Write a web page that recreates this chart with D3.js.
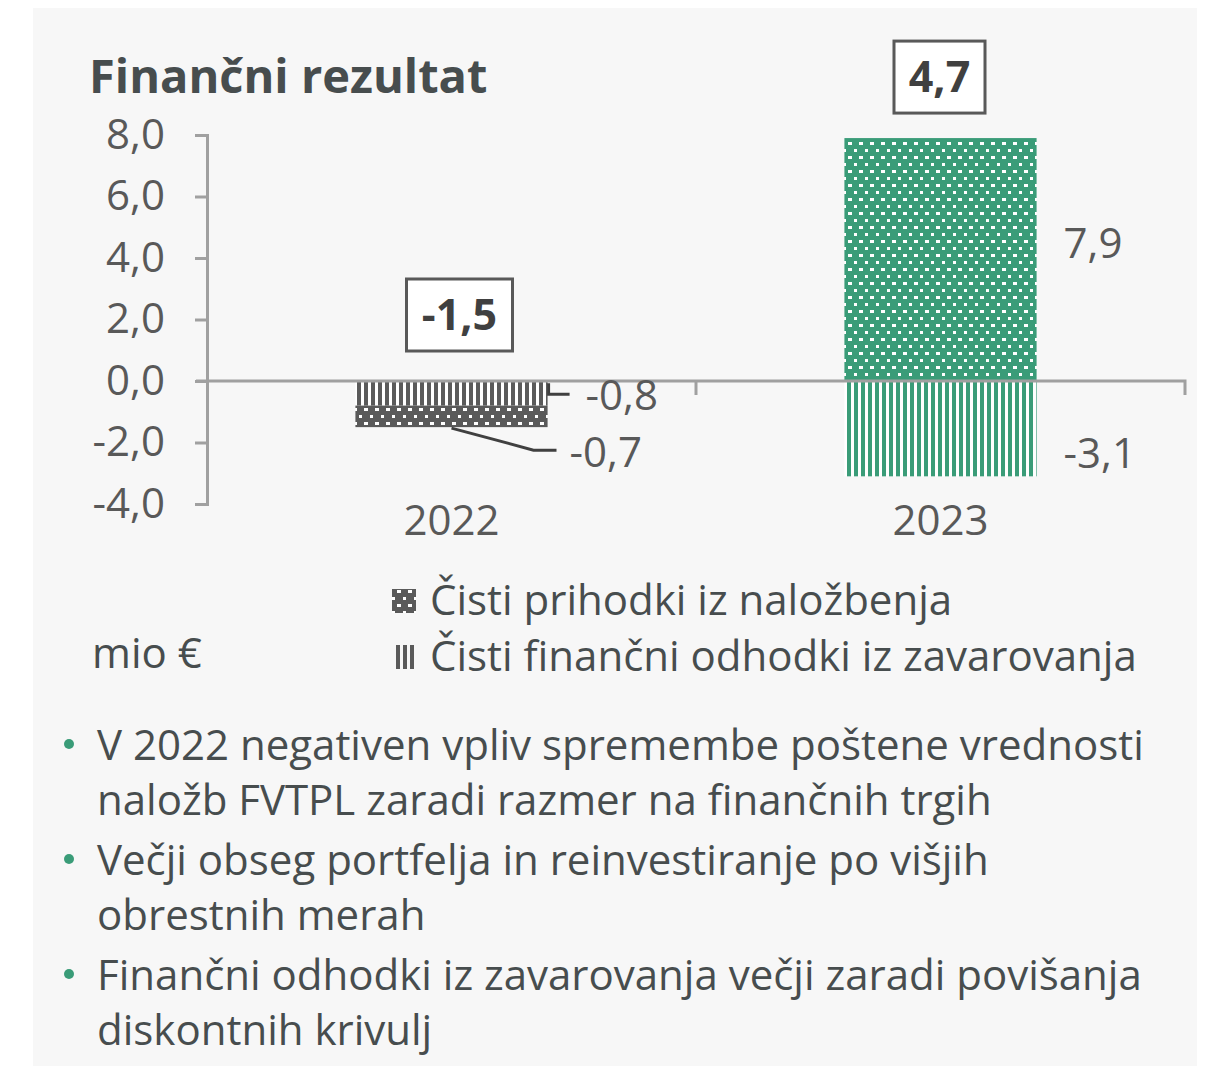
<!DOCTYPE html>
<html>
<head>
<meta charset="utf-8">
<script src="https://cdn.jsdelivr.net/npm/d3@7.9.0/dist/d3.min.js"></script>
<style>
  html, body { margin: 0; padding: 0; background: #fff; }
  svg { display: block; font-family: "Open Sans", sans-serif; }
</style>
</head>
<body>
<svg id="chart" width="1208" height="1068"></svg>
<script>
// chart data
const years = ["2022", "2023"];
const investIncome = [-0.7, 7.9];       // Čisti prihodki iz naložbenja
const insuranceExpense = [-0.8, -3.1];  // Čisti finančni odhodki iz zavarovanja
const totals = [-1.5, 4.7];
const yTicks = [-4, -2, 0, 2, 4, 6, 8];

const seriesNames = ["Čisti prihodki iz naložbenja", "Čisti finančni odhodki iz zavarovanja"];
const bullets = [
  ["V 2022 negativen vpliv spremembe poštene vrednosti", "naložb FVTPL zaradi razmer na finančnih trgih"],
  ["Večji obseg portfelja in reinvestiranje po višjih", "obrestnih merah"],
  ["Finančni odhodki iz zavarovanja večji zaradi povišanja", "diskontnih krivulj"]
];

const green = "#3a9c78";
const darkGray = "#5a5a5a";
const barColors = [darkGray, green];
const textColor = "#474d4e";
const axisColor = "#a0a0a0";

const locale = d3.formatLocale({ decimal: ",", thousands: ".", grouping: [3], currency: ["", " €"], minus: "-" });
const fmt = locale.format(".1f");

const svg = d3.select("#chart");

// panel background
svg.append("rect").attr("x", 33).attr("y", 8).attr("width", 1164).attr("height", 1058).attr("fill", "#f7f7f7");

// patterns
const defs = svg.append("defs");
function stripePattern(id, color) {
  const p = defs.append("pattern").attr("id", id).attr("patternUnits", "userSpaceOnUse")
    .attr("width", 7).attr("height", 10);
  p.append("rect").attr("width", 7).attr("height", 10).attr("fill", "#fff");
  p.append("rect").attr("x", 0).attr("width", 4).attr("height", 10).attr("fill", color);
}
function dotPattern(id, color) {
  const p = defs.append("pattern").attr("id", id).attr("patternUnits", "userSpaceOnUse")
    .attr("width", 11).attr("height", 14);
  p.append("rect").attr("width", 11).attr("height", 14).attr("fill", color);
  p.append("rect").attr("x", 1).attr("y", 2).attr("width", 4).attr("height", 3).attr("fill", "#fff");
  p.append("rect").attr("x", 7).attr("y", 9).attr("width", 3).attr("height", 3).attr("fill", "#fff");
}
barColors.forEach((c, i) => {
  stripePattern("stripe" + i, c);
  dotPattern("dot" + i, c);
});

// scales
const x = d3.scaleBand().domain(years).range([207, 1185]).padding(0);
const y = d3.scaleLinear().domain([-4, 8]).range([504, 135]);
const barW = x.bandwidth() * 0.393;

// stacked data
const table = years.map((yr, i) => ({ year: yr, insurance: insuranceExpense[i], invest: investIncome[i] }));
const stacked = d3.stack().keys(["insurance", "invest"]).offset(d3.stackOffsetDiverging)(table);

// title
svg.append("text").attr("x", 89).attr("y", 93).attr("font-size", 47).attr("font-weight", 700)
  .attr("fill", textColor).text("Finančni rezultat");

// y axis
const yAxis = svg.append("g").attr("transform", "translate(207,0)")
  .call(d3.axisLeft(y).tickValues(yTicks).tickSize(12).tickSizeOuter(12).tickPadding(30).tickFormat(fmt));
yAxis.selectAll("path, line").attr("stroke", axisColor).attr("stroke-width", 3);
yAxis.selectAll("text").attr("font-size", 42).attr("fill", "#595959").attr("font-family", "Open Sans, sans-serif");

// bars
stacked.forEach(series => {
  const kind = series.key === "invest" ? "dot" : "stripe";
  svg.append("g").selectAll("rect").data(series).join("rect")
    .attr("x", d => x(d.data.year) + x.bandwidth() / 2 - barW / 2)
    .attr("y", d => y(Math.max(d[0], d[1])))
    .attr("width", barW)
    .attr("height", d => Math.abs(y(d[0]) - y(d[1])))
    .attr("fill", (d, i) => `url(#${kind}${i})`);
});

// x axis (zero line with category boundary ticks)
const xAxis = svg.append("g").attr("stroke", axisColor).attr("stroke-width", 3).attr("fill", "none");
xAxis.append("path").attr("d", `M196,${y(0)}H${x.range()[1]}V${y(0) + 14}`);
years.slice(1).forEach(yr => {
  xAxis.append("line").attr("x1", x(yr)).attr("x2", x(yr)).attr("y1", y(0)).attr("y2", y(0) + 14);
});

svg.append("g").selectAll("text").data(years).join("text")
  .attr("x", d => x(d) + x.bandwidth() / 2)
  .attr("y", 535).attr("text-anchor", "middle").attr("font-size", 42).attr("fill", "#595959")
  .text(d => d);

// segment labels
const cx = i => x(years[i]) + x.bandwidth() / 2;
const lab = svg.append("g").attr("font-size", 42).attr("fill", "#595959");
// 2023: plain labels to the right of the bar
lab.append("text").attr("x", cx(1) + barW / 2 + 27).attr("y", y(investIncome[1] * 0.57) + 15).text(fmt(investIncome[1]));
lab.append("text").attr("x", cx(1) + barW / 2 + 27).attr("y", y(insuranceExpense[1] * 0.76) + 15).text(fmt(insuranceExpense[1]));
// 2022: labels with leader lines
const leader = svg.append("g").attr("stroke", "#404040").attr("stroke-width", 3).attr("fill", "none");
const r22 = cx(0) + barW / 2;
const y08 = y(insuranceExpense[0] / 2);
leader.append("path").attr("d", `M${r22 + 1},${y08 - 10}V${y08 + 1}H${r22 + 22}`);
lab.append("text").attr("x", r22 + 38).attr("y", y08 + 17).text(fmt(insuranceExpense[0]));
const bot22 = y(totals[0]);
leader.append("path").attr("d", `M${cx(0)},${bot22 + 1}L${cx(0) + 82},${bot22 + 23}H${cx(0) + 105}`);
lab.append("text").attr("x", cx(0) + 118).attr("y", bot22 + 40).text(fmt(investIncome[0]));

// total boxes
totals.forEach((t, i) => {
  const top = y(Math.max(0, investIncome[i] + Math.max(0, insuranceExpense[i])));
  const cy = i === 0 ? y(0) - 66 : top - 61;
  const bx = cx(i) + (i === 0 ? 8 : -1);
  const w = i === 0 ? 106 : 91;
  svg.append("rect").attr("x", bx - w / 2).attr("y", cy - 36).attr("width", w).attr("height", 72)
    .attr("fill", "#fff").attr("stroke", "#595959").attr("stroke-width", 3);
  svg.append("text").attr("x", bx).attr("y", cy + 15).attr("text-anchor", "middle")
    .attr("font-size", 43).attr("font-weight", 700).attr("fill", "#404040").text(fmt(t));
});

// legend
const lg = svg.append("g");
const lgTop = [589, 645];
lg.append("rect").attr("x", 392).attr("y", lgTop[0]).attr("width", 24).attr("height", 24).attr("fill", "url(#dot0)");
[0, 1, 2].forEach(k => {
  lg.append("rect").attr("x", 396 + k * 7).attr("y", lgTop[1]).attr("width", 4).attr("height", 24).attr("fill", darkGray);
});
seriesNames.forEach((name, i) => {
  lg.append("text").attr("x", 430).attr("y", lgTop[i] + 26).attr("font-size", 42).attr("fill", textColor).text(name);
});
svg.append("text").attr("x", 92).attr("y", 668).attr("font-size", 42).attr("fill", textColor).text("mio €");

// bullets
const bl = svg.append("g").attr("font-size", 42).attr("fill", textColor);
let lineY = 760;
bullets.forEach(lines => {
  bl.append("circle").attr("cx", 69).attr("cy", lineY - 16).attr("r", 5).attr("fill", green);
  lines.forEach((t, j) => {
    bl.append("text").attr("x", 97).attr("y", lineY + j * 55).text(t);
  });
  lineY += lines.length * 55 + 5;
});
</script>
</body>
</html>
